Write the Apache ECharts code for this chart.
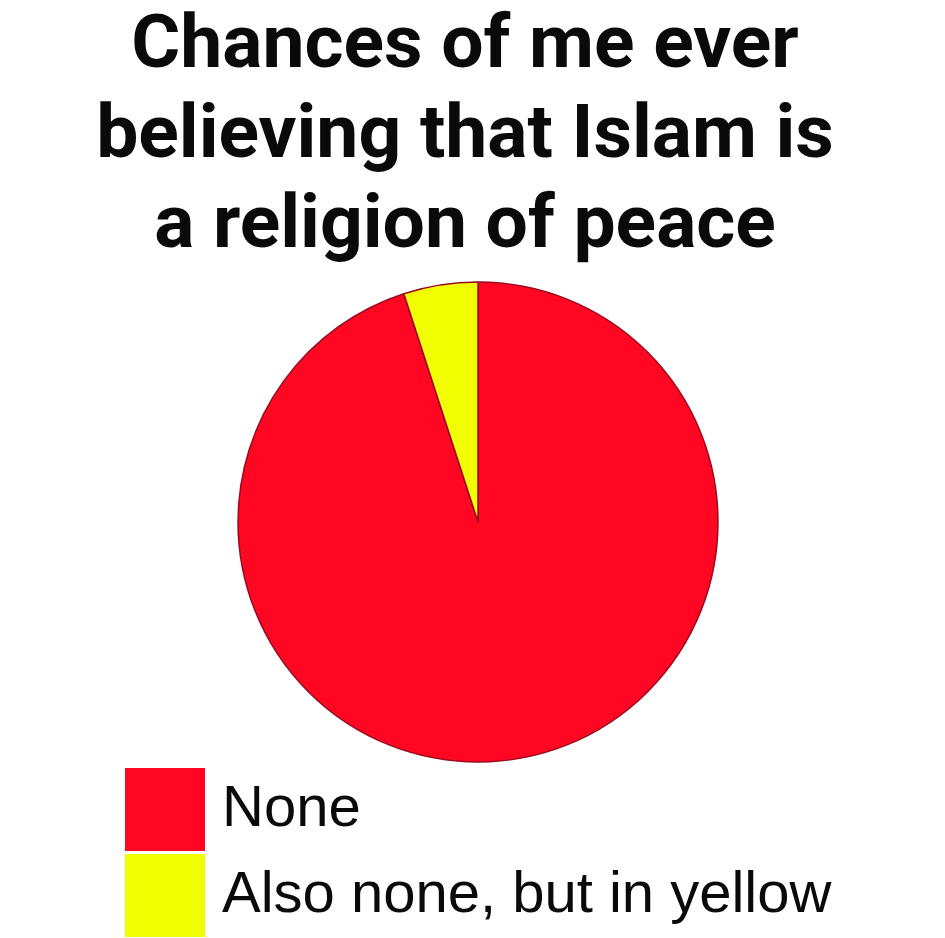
<!DOCTYPE html>
<html>
<head>
<meta charset="utf-8">
<script src="https://cdn.jsdelivr.net/npm/echarts@6/dist/echarts.min.js"></script>
<style>
html,body{margin:0;padding:0;background:#fff;}
#main{width:945px;height:938px;}
</style>
</head>
<body>
<div id="main"></div>
<script>
const titleLines = ['Chances of me ever', 'believing that Islam is', 'a religion of peace'];
const categories = ['None', 'Also none, but in yellow'];
const values = [95, 5];
const colors = ['#ff0723', '#f2ff00'];

const chart = echarts.init(document.getElementById('main'), null, {renderer: 'canvas'});
chart.setOption({
  backgroundColor: '#ffffff',
  animation: false,
  title: {
    text: titleLines.join('\n'),
    left: 460,
    top: -2,
    textAlign: 'center',
    textStyle: {
      fontFamily: 'Roboto',
      fontWeight: 'bold',
      fontSize: 75,
      lineHeight: 90,
      color: '#0a0a0a'
    }
  },
  legend: {
    orient: 'vertical',
    left: 125,
    top: 768,
    padding: 0,
    itemWidth: 80,
    itemHeight: 83,
    itemGap: 3,
    icon: 'rect',
    data: [
      {name: categories[0], textStyle: {padding: [36, 0, 0, 12]}},
      {name: categories[1], textStyle: {padding: [9, 0, 0, 12]}}
    ],
    itemStyle: {borderWidth: 0},
    textStyle: {
      fontFamily: 'Liberation Sans',
      fontSize: 58,
      lineHeight: 44,
      color: '#0a0a0a'
    }
  },
  series: [{
    type: 'pie',
    center: [478, 522],
    radius: 240,
    startAngle: 90,
    clockwise: true,
    silent: true,
    label: {show: false},
    labelLine: {show: false},
    itemStyle: {borderColor: '#9a0a1e', borderWidth: 1.5},
    data: categories.map((c, i) => ({name: c, value: values[i], itemStyle: {color: colors[i]}}))
  }]
});
</script>
</body>
</html>
